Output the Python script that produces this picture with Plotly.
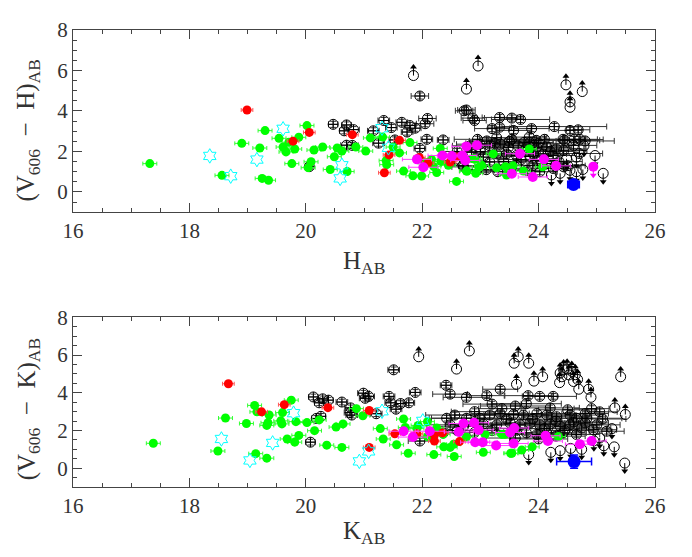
import plotly.graph_objects as go

# ---- top panel: V606 - H vs H_AB ----
h_grn_x = [17.32, 18.56, 18.90, 19.30, 19.21, 19.25, 19.36, 19.54, 19.61, 19.66, 19.76, 19.81, 19.88, 19.71,
           20.02, 20.04, 20.09, 20.14, 20.29, 20.42, 20.49, 20.54, 20.62, 20.71, 20.86, 21.03, 21.11, 21.32,
           21.50, 21.61, 21.79, 21.39, 21.38, 21.68, 21.84, 21.99, 22.31, 22.25, 22.59, 22.76, 22.92, 23.22,
           23.28, 23.56, 23.84, 24.07, 22.91, 23.02, 22.32, 22.45, 22.16, 23.74, 23.45, 22.98, 23.43, 22.77,
           22.88, 22.20, 22.05]
h_grn_y = [1.40, 0.82, 2.40, 3.03, 2.17, 0.67, 0.58, 2.65, 2.22, 1.98, 1.40, 2.12, 2.70, 2.46,
           3.28, 1.20, 1.49, 2.07, 2.22, 1.11, 1.74, 2.17, 2.02, 1.01, 2.22, 2.02, 2.67, 2.71,
           2.22, 1.93, 2.44, 1.35, 1.55, 1.03, 0.80, 0.79, 2.15, 0.96, 0.52, 1.03, 0.92, 1.88,
           1.19, 1.29, 2.12, 1.24, 1.61, 1.32, 1.51, 1.32, 1.61, 1.03, 0.84, 1.22, 1.25, 1.03,
           1.64, 1.25, 1.45]
h_red_x = [18.99, 20.06, 19.78, 20.80, 21.61, 21.43, 21.35, 21.95, 22.10, 22.48, 22.60]
h_red_y = [4.05, 2.94, 2.51, 2.83, 2.55, 1.83, 0.95, 1.70, 1.43, 1.48, 1.73]
h_mag_x = [21.91, 22.02, 22.35, 22.51, 22.69, 22.74, 22.76, 22.94, 23.68, 24.09, 24.30, 23.54, 23.90]
h_mag_y = [1.61, 1.22, 1.80, 1.78, 1.80, 1.56, 2.25, 2.31, 1.89, 1.61, 1.29, 0.90, 0.74]
h_mag_ul_x = [24.94]
h_mag_ul_y = [1.25]
h_cyan_x = [18.35, 18.71, 19.16, 19.61, 20.62, 20.59, 21.31, 21.42]
h_cyan_y = [1.78, 0.78, 1.60, 3.12, 1.32, 0.67, 3.15, 2.18]
h_blue_x = [24.60]
h_blue_y = [0.37]
h_blk_x = [20.06, 20.47, 20.70, 20.66, 20.82, 20.70, 20.80, 21.16, 21.25, 21.34, 21.47, 21.65, 21.74, 21.79,
           21.88, 21.96, 22.09, 22.05, 22.08, 22.36, 21.96, 21.53, 22.72, 22.76, 22.87, 22.90, 23.33, 23.54,
           23.69, 23.20, 23.33, 23.57, 23.88, 24.27, 24.54, 24.68, 23.54, 23.84, 23.96, 24.45, 24.61, 24.80,
           24.71, 24.42, 22.82, 22.99, 23.16, 23.34, 23.48, 23.65, 23.80, 23.97, 24.14, 24.31, 23.28, 23.45,
           23.62, 23.91, 24.08, 24.25, 23.05, 23.16, 23.62, 23.97, 24.14, 24.25, 24.02, 22.94, 22.71, 22.56,
           23.28, 23.85, 23.11, 22.85, 24.43, 23.80, 24.43,
           22.60, 22.70, 23.00, 23.10, 23.25, 23.40, 23.50, 23.70, 23.75, 23.90, 24.00, 24.20, 24.35, 24.60,
           24.70, 24.10, 23.30, 22.95, 24.50, 23.85]
h_blk_y = [1.25, 3.34, 3.31, 3.02, 3.08, 2.31, 2.30, 3.02, 2.41, 3.53, 3.18, 3.44, 2.96, 3.28,
           3.15, 4.74, 3.63, 3.37, 2.60, 2.57, 2.15, 2.57, 4.01, 4.05, 3.65, 3.53, 3.68, 3.65,
           3.58, 3.13, 3.20, 3.04, 3.13, 3.23, 3.04, 3.07, 2.60, 2.71, 2.55, 2.55, 2.59, 2.52,
           2.60, 2.60, 2.28, 2.36, 2.28, 2.36, 2.20, 2.28, 2.20, 2.20, 2.23, 2.12, 1.88, 1.88,
           1.80, 1.88, 1.88, 1.80, 1.72, 1.48, 1.32, 1.56, 1.40, 1.16, 1.00, 1.07, 1.24, 1.56,
           2.68, 2.44, 2.52, 1.96, 2.04, 1.07, 1.24,
           2.00, 1.30, 2.00, 1.10, 2.40, 1.50, 2.50, 1.60, 2.45, 1.30, 2.40, 2.00, 1.50, 2.30,
           1.90, 2.60, 1.00, 2.60, 1.30, 1.75]
h_blk_xerr = [0.05, 0.08, 0.08, 0.08, 0.10, 0.10, 0.10, 0.10, 0.10, 0.10, 0.10, 0.10, 0.10, 0.10,
              0.10, 0.15, 0.15, 0.15, 0.10, 0.10, 0.10, 0.10, 0.15, 0.15, 0.20, 0.20, 0.30, 0.20,
              0.50, 0.30, 0.20, 0.30, 0.30, 0.90, 0.20, 0.20, 0.40, 0.30, 0.40, 0.60, 0.50, 0.50,
              0.30, 0.30, 0.30, 0.40, 0.40, 0.50, 0.40, 0.50, 0.40, 0.60, 0.40, 0.50, 0.40, 0.50,
              0.40, 0.50, 0.40, 0.40, 0.30, 0.40, 0.30, 0.40, 0.30, 0.30, 0.30, 0.30, 0.20, 0.20,
              0.30, 0.40, 0.30, 0.30, 0.40, 0.30, 0.30,
              0.30, 0.30, 0.40, 0.40, 0.50, 0.40, 0.50, 0.40, 0.50, 0.40, 0.50, 0.40, 0.40, 0.40,
              0.40, 0.50, 0.30, 0.40, 0.30, 0.40]
h_ll_x = [21.85, 22.76, 22.96, 24.47, 24.75, 24.54, 24.54]
h_ll_y = [5.75, 5.08, 6.22, 5.29, 4.96, 4.45, 4.18]
h_ul_x = [24.97, 25.11, 24.78, 24.37, 24.65, 24.54, 24.76, 24.22, 24.48, 24.65]
h_ul_y = [1.80, 0.92, 2.28, 0.92, 1.00, 1.07, 1.11, 0.84, 1.64, 1.72]

# ---- bottom panel: V606 - K vs K_AB ----
k_grn_x = [17.38, 18.49, 18.62, 18.98, 19.12, 19.16, 19.14, 19.37, 19.35, 19.33, 19.33, 19.57, 19.59, 19.60,
           19.75, 19.68, 19.81, 19.83, 19.88, 20.02, 20.15, 20.23, 20.36, 20.52, 20.62, 20.64, 20.87, 20.98,
           21.28, 21.33, 21.56, 21.68, 21.71, 21.76, 21.93, 22.09, 22.09, 22.20, 22.37, 22.55, 22.54, 23.05,
           23.52, 23.71, 23.89, 23.37, 24.34, 22.36, 22.76, 22.25, 22.48, 21.91, 23.08, 23.42, 23.54]
k_grn_y = [1.32, 0.91, 2.66, 2.37, 3.33, 2.99, 0.77, 2.82, 2.41, 2.27, 0.53, 2.51, 2.35, 2.95,
           3.61, 1.55, 1.38, 2.47, 1.74, 2.42, 1.99, 2.56, 1.22, 2.18, 1.10, 2.35, 3.16, 2.78,
           2.10, 1.55, 1.24, 2.61, 2.16, 0.79, 2.27, 2.47, 1.68, 0.72, 1.13, 0.62, 1.27, 0.84,
           0.79, 0.96, 1.13, 1.79, 1.68, 1.79, 1.65, 2.13, 1.10, 2.10, 1.79, 1.79, 0.79]
k_red_x = [18.67, 19.24, 19.63, 20.38, 21.09, 21.09, 21.53, 21.91, 22.21, 22.21, 22.35, 22.64]
k_red_y = [4.48, 2.99, 3.37, 3.21, 3.06, 1.10, 1.82, 1.82, 1.75, 1.44, 1.87, 1.41]
k_mag_x = [21.68, 21.84, 22.13, 22.63, 22.71, 22.89, 22.97, 22.91, 23.04, 23.27, 23.51, 23.58, 23.57,
           24.12, 24.16, 24.71, 24.91]
k_mag_y = [1.96, 1.65, 1.96, 1.92, 2.37, 2.41, 2.03, 1.38, 1.38, 1.20, 1.89, 2.13, 1.31,
           1.72, 1.44, 1.27, 1.44]
k_cyan_x = [18.55, 19.04, 19.43, 19.79, 21.31, 20.92, 21.08, 22.01]
k_cyan_y = [1.55, 0.41, 1.34, 2.92, 3.02, 0.36, 0.89, 2.51]
k_blue_x = [24.61]
k_blue_y = [0.35]
k_blk_x = [20.13, 20.23, 20.29, 20.39, 20.18, 20.26, 20.08, 20.62, 20.77, 20.76, 20.79, 20.99, 21.02, 21.08,
           21.21, 21.43, 21.46, 21.63, 21.55, 21.77, 21.88, 21.51, 22.41, 22.48, 22.76, 23.11, 23.34, 23.82,
           24.02, 24.25, 23.37, 23.79, 24.91, 25.05, 22.56, 22.76, 22.99, 23.16, 23.34, 23.57, 23.74, 23.97,
           24.14, 24.31, 24.54, 24.65, 24.83, 22.48, 22.71, 23.05, 23.28, 23.51, 23.68, 23.85, 24.02, 24.20,
           24.37, 24.54, 24.74, 25.00, 23.79, 23.97, 24.14, 24.42, 24.65, 25.17, 22.42, 22.36, 21.96, 25.10,
           24.94,
           22.60, 22.90, 23.20, 23.45, 23.60, 23.90, 24.10, 24.30, 24.45, 24.60, 24.80, 24.00, 24.30, 23.60,
           24.50, 23.60, 24.20, 24.80, 22.90, 23.20]
k_blk_y = [3.78, 3.47, 3.68, 3.61, 2.64, 2.75, 1.38, 3.51, 3.20, 2.95, 2.82, 3.98, 3.71, 3.81,
           2.89, 3.81, 3.47, 3.43, 3.13, 3.47, 4.02, 5.22, 4.40, 3.93, 3.76, 3.85, 4.19, 3.85,
           3.81, 3.81, 3.16, 3.42, 3.16, 2.99, 2.82, 2.65, 2.65, 2.82, 2.90, 2.85, 2.82, 2.90,
           2.82, 2.73, 2.82, 2.65, 2.65, 2.30, 2.22, 2.34, 2.30, 2.39, 2.30, 2.39, 2.30, 2.34,
           2.22, 2.30, 2.13, 2.30, 1.87, 1.79, 1.87, 1.87, 1.79, 1.96, 2.65, 1.87, 1.44, 2.61,
           2.04,
           2.00, 1.90, 2.00, 2.60, 2.10, 2.60, 2.10, 2.50, 2.00, 2.45, 2.40, 1.55, 1.70, 1.60,
           3.10, 3.30, 3.20, 2.90, 3.00, 3.40]
k_blk_xerr = [0.08, 0.08, 0.08, 0.08, 0.08, 0.08, 0.08, 0.10, 0.10, 0.10, 0.10, 0.10, 0.10, 0.10,
              0.10, 0.10, 0.10, 0.10, 0.10, 0.10, 0.10, 0.10, 0.10, 0.30, 0.40, 0.30, 0.30, 0.40,
              0.30, 0.40, 0.40, 0.60, 0.30, 0.30, 0.50, 0.60, 0.50, 0.60, 0.50, 0.60, 0.50, 0.60,
              0.50, 0.60, 0.50, 0.50, 0.60, 0.40, 0.50, 0.60, 0.50, 0.60, 0.50, 0.60, 0.50, 0.60,
              0.50, 0.50, 0.50, 0.40, 0.50, 0.40, 0.50, 0.40, 0.40, 0.30, 0.30, 0.30, 0.20, 0.40,
              0.40,
              0.40, 0.50, 0.50, 0.50, 0.60, 0.50, 0.60, 0.50, 0.50, 0.50, 0.40, 0.50, 0.50, 0.50,
              0.50, 0.60, 0.50, 0.40, 0.40, 0.50]
k_ll_x = [21.94, 22.59, 22.81, 23.65, 23.58, 23.83, 23.62, 23.92, 24.07, 24.37, 24.43, 24.49, 24.57, 24.63,
          24.67, 24.69, 24.36, 24.40, 24.52, 24.60, 24.86, 24.90, 25.41, 25.31, 25.49]
k_ll_y = [5.91, 5.26, 6.22, 5.91, 5.57, 5.57, 4.45, 4.62, 4.85, 5.05, 5.22, 5.26, 5.14, 4.96,
          4.71, 4.19, 4.54, 4.85, 4.95, 4.60, 4.19, 3.76, 4.85, 3.20, 2.85]
k_ul_x = [25.26, 25.12, 25.30, 25.48, 24.21, 24.37, 23.83, 24.74, 24.55, 24.95, 25.05]
k_ul_y = [2.10, 1.19, 1.13, 0.27, 0.84, 0.93, 0.72, 1.00, 1.05, 1.45, 1.60]

BLK_YERR = 0.15
GRN_ERR = (0.12, 0.15)
ARROW = 0.42
FONT = "Liberation Serif"

fig = go.Figure()


def panel(xa, ya, grn, red, mag, cyan, blue, blk, ll, ul, blue_err, mag_ul=None):
    kw = dict(xaxis=xa, yaxis=ya, mode="markers", showlegend=False, hoverinfo="skip")
    # black points with error bars
    fig.add_trace(go.Scatter(x=blk[0], y=blk[1], **kw,
                             marker=dict(symbol="circle-cross-open", size=10, color="black",
                                         line=dict(width=1, color="black")),
                             error_x=dict(type="data", array=blk[2], color="#333", thickness=1, width=3),
                             error_y=dict(type="constant", value=BLK_YERR, color="#333", thickness=1, width=3)))
    # limits (arrows up / down)
    for lx, ly, sgn in [(ll[0], ll[1], 1), (ul[0], ul[1], -1)]:
        fig.add_trace(go.Scatter(x=lx, y=ly, **kw,
                                 marker=dict(symbol="circle-open", size=10, color="black",
                                             line=dict(width=1, color="black")),
                                 error_y=dict(type="constant", value=ARROW if sgn > 0 else 0,
                                              valueminus=ARROW if sgn < 0 else 0,
                                              symmetric=False, color="black", thickness=1, width=0)))
        fig.add_trace(go.Scatter(x=lx, y=[v + sgn * ARROW for v in ly], **kw,
                                 marker=dict(symbol="triangle-up" if sgn > 0 else "triangle-down",
                                             size=6, color="black")))
    fig.add_trace(go.Scatter(x=grn[0], y=grn[1], **kw,
                             marker=dict(symbol="circle", size=9, color="#00ff00"),
                             error_x=dict(type="constant", value=GRN_ERR[0], color="#33ff33", thickness=1, width=2),
                             error_y=dict(type="constant", value=GRN_ERR[1], color="#33ff33", thickness=1, width=2)))
    fig.add_trace(go.Scatter(x=red[0], y=red[1], **kw,
                             marker=dict(symbol="circle", size=9, color="#ff0000"),
                             error_x=dict(type="constant", value=0.1, color="#ff5555", thickness=1, width=2),
                             error_y=dict(type="constant", value=0.12, color="#ff5555", thickness=1, width=2)))
    fig.add_trace(go.Scatter(x=mag[0], y=mag[1], **kw,
                             marker=dict(symbol="circle", size=10, color="#ff00ff"),
                             error_x=dict(type="constant", value=0.25, color="#ff44ff", thickness=1, width=2),
                             error_y=dict(type="constant", value=0.15, color="#ff44ff", thickness=1, width=2)))
    if mag_ul:
        fig.add_trace(go.Scatter(x=mag_ul[0], y=mag_ul[1], **kw,
                                 marker=dict(symbol="circle", size=10, color="#ff00ff"),
                                 error_y=dict(type="constant", value=0, valueminus=ARROW, symmetric=False,
                                              color="#ff00ff", thickness=1, width=0)))
        fig.add_trace(go.Scatter(x=mag_ul[0], y=[v - ARROW for v in mag_ul[1]], **kw,
                                 marker=dict(symbol="triangle-down", size=6, color="#ff00ff")))
    fig.add_trace(go.Scatter(x=cyan[0], y=cyan[1], **kw,
                             marker=dict(symbol="hexagram-open", size=11, color="#00ffff",
                                         line=dict(width=1, color="#00ffff"))))
    fig.add_trace(go.Scatter(x=blue[0], y=blue[1], **kw,
                             marker=dict(symbol="circle", size=13, color="#0000ff"),
                             error_x=dict(type="constant", value=blue_err[0], color="#0000ff", thickness=1.5, width=4),
                             error_y=dict(type="constant", value=blue_err[1], color="#0000ff", thickness=1.5, width=4)))


panel("x", "y", (h_grn_x, h_grn_y), (h_red_x, h_red_y), (h_mag_x, h_mag_y), (h_cyan_x, h_cyan_y),
      (h_blue_x, h_blue_y), (h_blk_x, h_blk_y, h_blk_xerr), (h_ll_x, h_ll_y), (h_ul_x, h_ul_y),
      (0.1, 0.15), mag_ul=(h_mag_ul_x, h_mag_ul_y))
panel("x2", "y2", (k_grn_x, k_grn_y), (k_red_x, k_red_y), (k_mag_x, k_mag_y), (k_cyan_x, k_cyan_y),
      (k_blue_x, k_blue_y), (k_blk_x, k_blk_y, k_blk_xerr), (k_ll_x, k_ll_y), (k_ul_x, k_ul_y),
      (0.3, 0.35))

ax = dict(showgrid=False, zeroline=False, showline=True, linecolor="#444", linewidth=1, mirror="ticks",
          ticks="inside", ticklen=9, tickcolor="#444", tickwidth=1, dtick=2,
          minor=dict(dtick=0.5, ticks="inside", ticklen=4, tickcolor="#444"),
          tickfont=dict(family=FONT, size=21, color="#333"))
# page body has an 8px margin, so the figure is sized/offset to match the reference frame
fig.update_layout(
    width=676, height=541,
    margin=dict(l=65, r=29, t=10, b=62),
    plot_bgcolor="white", paper_bgcolor="white",
    xaxis=dict(ax, range=[16, 26], domain=[0, 1], anchor="y", tick0=16),
    yaxis=dict(ax, range=[-1, 8], domain=[0.6013, 1], anchor="x", tick0=0),
    xaxis2=dict(ax, range=[16, 26], domain=[0, 1], anchor="y2", tick0=16),
    yaxis2=dict(ax, range=[-1, 8], domain=[0, 0.371], anchor="x2", tick0=0),
)

tfont = dict(family=FONT, size=25, color="#333")
fig.add_annotation(text="H<sub>AB</sub>", xref="paper", yref="paper", x=0.5, y=0.6013, yshift=-50,
                   showarrow=False, font=tfont, xanchor="center", yanchor="middle")
fig.add_annotation(text="K<sub>AB</sub>", xref="paper", yref="paper", x=0.5, y=0, yshift=-45,
                   showarrow=False, font=tfont, xanchor="center", yanchor="middle")
fig.add_annotation(text="(V<sub>606</sub>  \u2212  H)<sub>AB</sub>", xref="paper", yref="paper",
                   x=0, xshift=-45, y=0.78, textangle=-90, showarrow=False, font=tfont,
                   xanchor="center", yanchor="middle")
fig.add_annotation(text="(V<sub>606</sub>  \u2212  K)<sub>AB</sub>", xref="paper", yref="paper",
                   x=0, xshift=-45, y=0.17, textangle=-90, showarrow=False, font=tfont,
                   xanchor="center", yanchor="middle")

fig.write_html("out.html")
